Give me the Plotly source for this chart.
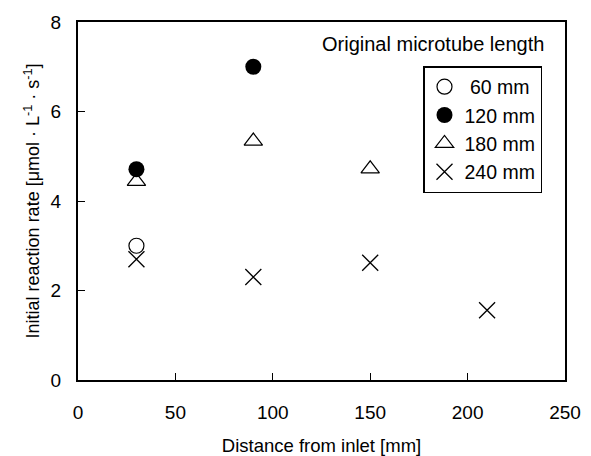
import plotly.graph_objects as go

# Data
x_60 = [30]
y_60 = [3.0]
x_120 = [30, 90]
y_120 = [4.71, 7.0]
x_180 = [30, 90, 150]
y_180 = [4.44, 5.34, 4.72]
x_240 = [30, 90, 150, 210]
y_240 = [2.70, 2.30, 2.62, 1.56]

names = ["\u00a060 mm", "120 mm", "180 mm", "240 mm"]
x_ticks = [0, 50, 100, 150, 200, 250]
y_ticks = [0, 2, 4, 6, 8]

FONT = "Liberation Sans, Arial, sans-serif"

# the page body has an 8px margin, so the figure is drawn 8px in from the window edge
fig = go.Figure()
fig.add_trace(go.Scatter(x=x_60, y=y_60, mode="markers", name=names[0],
                         marker=dict(symbol="circle-open", size=15, color="black",
                                     line=dict(width=1.2, color="black"))))
fig.add_trace(go.Scatter(x=x_120, y=y_120, mode="markers", name=names[1],
                         marker=dict(symbol="circle", size=16, color="black",
                                     line=dict(width=0, color="black"))))
fig.add_trace(go.Scatter(x=x_180, y=y_180, mode="markers", name=names[2],
                         marker=dict(symbol="triangle-up-open", size=16, color="black",
                                     line=dict(width=1.2, color="black"))))
fig.add_trace(go.Scatter(x=x_240, y=y_240, mode="markers", name=names[3],
                         marker=dict(symbol="x-thin-open", size=16, color="black",
                                     line=dict(width=1.3, color="black"))))

fig.update_layout(
    width=583, height=448,
    margin=dict(l=70, r=26, t=14, b=76, autoexpand=False),
    paper_bgcolor="white", plot_bgcolor="white",
    font=dict(family=FONT, size=18, color="black"),
    showlegend=True,
    legend=dict(x=(423 - 78) / 487, y=(380 - 66) / 358, xanchor="left", yanchor="top",
                bordercolor="black", borderwidth=1.5, bgcolor="white",
                font=dict(size=19.5), itemwidth=30, tracegroupgap=0),
)
fig.update_xaxes(range=[0, 250], tickvals=x_ticks, ticks="inside", ticklen=7,
                 tickwidth=1.3, tickcolor="black", showline=True, linewidth=2,
                 linecolor="black", mirror=True, showgrid=False, zeroline=False,
                 automargin=False,
                 tickfont=dict(size=19), ticklabelstandoff=14,
                 title=dict(text="Distance from inlet [mm]", font=dict(size=18.5), standoff=17))
fig.update_yaxes(range=[0, 8], tickvals=y_ticks, ticks="inside", ticklen=7,
                 tickwidth=1.3, tickcolor="black", showline=True, linewidth=2,
                 linecolor="black", mirror=True, showgrid=False, zeroline=False,
                 automargin=False,
                 tickfont=dict(size=19), ticklabelstandoff=11,
                 title=dict(text="Initial reaction rate [μmol · L<sup>-1</sup> · s<sup>-1</sup>]",
                            font=dict(size=18), standoff=6))
fig.add_annotation(text="Original microtube length", xref="paper", yref="paper",
                   x=(546 - 78) / 487, y=(380 - 44) / 358, xanchor="right", yanchor="middle",
                   showarrow=False, font=dict(size=20))

fig.write_html("out.html")
